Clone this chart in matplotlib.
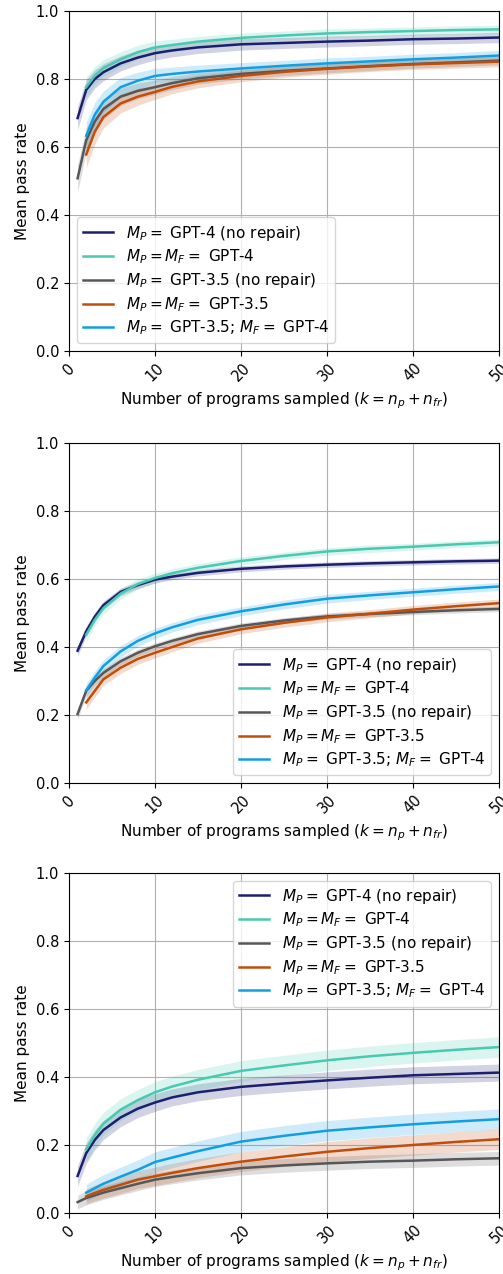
import matplotlib
matplotlib.use("Agg")
import matplotlib.pyplot as plt

# sample points (k) for the base (no repair) and repair curves
k_base = [1, 2, 3, 4, 6, 8, 10, 12, 15, 20, 25, 30, 35, 40, 45, 50]
k_rep = [2, 3, 4, 6, 8, 10, 12, 15, 20, 25, 30, 35, 40, 45, 50]

labels = [
    r"$M_P =$ GPT-4 (no repair)",
    r"$M_P = M_F =$ GPT-4",
    r"$M_P =$ GPT-3.5 (no repair)",
    r"$M_P = M_F =$ GPT-3.5",
    r"$M_P =$ GPT-3.5; $M_F =$ GPT-4",
]
colors = ["#1b1f6e", "#48c9b0", "#555759", "#c04e0a", "#129fe2"]
is_repair = [False, True, False, True, True]

# panel 1
p1_gpt4 = [0.685, 0.768, 0.800, 0.820, 0.846, 0.863, 0.876, 0.884, 0.893, 0.902, 0.906, 0.910, 0.913, 0.917, 0.919, 0.922]
p1_gpt4_rep = [0.776, 0.810, 0.832, 0.858, 0.879, 0.893, 0.900, 0.910, 0.921, 0.928, 0.934, 0.938, 0.941, 0.944, 0.946]
p1_gpt35 = [0.508, 0.620, 0.675, 0.712, 0.748, 0.765, 0.776, 0.788, 0.802, 0.815, 0.824, 0.831, 0.838, 0.844, 0.849, 0.854]
p1_gpt35_rep = [0.578, 0.645, 0.688, 0.728, 0.748, 0.762, 0.777, 0.793, 0.809, 0.821, 0.830, 0.837, 0.843, 0.847, 0.851]
p1_mixed = [0.633, 0.695, 0.733, 0.776, 0.795, 0.809, 0.815, 0.822, 0.831, 0.839, 0.846, 0.852, 0.858, 0.863, 0.869]

# panel 2
p2_gpt4 = [0.389, 0.446, 0.489, 0.523, 0.562, 0.582, 0.598, 0.607, 0.618, 0.630, 0.637, 0.642, 0.646, 0.649, 0.652, 0.654]
p2_gpt4_rep = [0.436, 0.480, 0.514, 0.557, 0.585, 0.603, 0.617, 0.633, 0.653, 0.668, 0.681, 0.689, 0.695, 0.702, 0.708]
p2_gpt35 = [0.203, 0.271, 0.300, 0.324, 0.358, 0.383, 0.402, 0.418, 0.438, 0.462, 0.478, 0.490, 0.497, 0.503, 0.508, 0.512]
p2_gpt35_rep = [0.237, 0.271, 0.305, 0.339, 0.365, 0.383, 0.400, 0.425, 0.452, 0.471, 0.487, 0.498, 0.510, 0.520, 0.529]
p2_mixed = [0.273, 0.310, 0.344, 0.387, 0.418, 0.440, 0.458, 0.480, 0.505, 0.525, 0.542, 0.552, 0.561, 0.570, 0.578]

# panel 3
p3_gpt4 = [0.109, 0.176, 0.215, 0.244, 0.281, 0.307, 0.325, 0.340, 0.355, 0.371, 0.381, 0.390, 0.398, 0.405, 0.409, 0.413]
p3_gpt4_rep = [0.187, 0.229, 0.263, 0.304, 0.332, 0.355, 0.372, 0.392, 0.418, 0.434, 0.449, 0.461, 0.471, 0.480, 0.488]
p3_gpt35 = [0.032, 0.044, 0.052, 0.060, 0.073, 0.086, 0.098, 0.106, 0.117, 0.132, 0.140, 0.146, 0.151, 0.154, 0.158, 0.161]
p3_gpt35_rep = [0.049, 0.059, 0.068, 0.083, 0.098, 0.108, 0.118, 0.132, 0.151, 0.166, 0.180, 0.191, 0.200, 0.209, 0.217]
p3_mixed = [0.060, 0.073, 0.086, 0.107, 0.127, 0.150, 0.163, 0.182, 0.210, 0.227, 0.242, 0.252, 0.261, 0.269, 0.276]

# band half-widths (same points as the curves)
b1 = [
    [0.035, 0.030, 0.027, 0.025, 0.022, 0.021, 0.020, 0.019, 0.018, 0.017, 0.016, 0.016, 0.015, 0.015, 0.015, 0.015],
    [0.030, 0.027, 0.025, 0.022, 0.020, 0.019, 0.017, 0.015, 0.014, 0.013, 0.013, 0.012, 0.012, 0.012, 0.012],
    [0.040, 0.036, 0.032, 0.030, 0.026, 0.023, 0.021, 0.019, 0.017, 0.015, 0.014, 0.013, 0.013, 0.012, 0.012, 0.012],
    [0.040, 0.036, 0.032, 0.028, 0.025, 0.022, 0.020, 0.019, 0.017, 0.016, 0.016, 0.015, 0.015, 0.015, 0.015],
    [0.040, 0.036, 0.032, 0.028, 0.025, 0.022, 0.020, 0.019, 0.017, 0.016, 0.016, 0.015, 0.015, 0.015, 0.015],
]
b2 = [
    [0.015, 0.014, 0.013, 0.012, 0.011, 0.010, 0.010, 0.009, 0.009, 0.009, 0.008, 0.008, 0.008, 0.008, 0.008, 0.008],
    [0.020, 0.018, 0.017, 0.016, 0.015, 0.014, 0.013, 0.012, 0.012, 0.011, 0.011, 0.011, 0.010, 0.010, 0.010],
    [0.015, 0.014, 0.013, 0.012, 0.011, 0.010, 0.010, 0.009, 0.009, 0.009, 0.008, 0.008, 0.008, 0.008, 0.008, 0.008],
    [0.020, 0.019, 0.018, 0.017, 0.016, 0.015, 0.014, 0.014, 0.013, 0.013, 0.013, 0.012, 0.012, 0.012, 0.012],
    [0.020, 0.019, 0.018, 0.017, 0.016, 0.015, 0.014, 0.014, 0.013, 0.013, 0.013, 0.012, 0.012, 0.012, 0.012],
]
b3 = [
    [0.030, 0.030, 0.029, 0.028, 0.027, 0.026, 0.026, 0.025, 0.025, 0.025, 0.025, 0.025, 0.025, 0.025, 0.025, 0.025],
    [0.035, 0.034, 0.033, 0.032, 0.031, 0.031, 0.030, 0.030, 0.030, 0.030, 0.030, 0.030, 0.030, 0.030, 0.030],
    [0.020, 0.020, 0.020, 0.020, 0.020, 0.020, 0.020, 0.020, 0.020, 0.020, 0.020, 0.020, 0.020, 0.020, 0.020, 0.020],
    [0.022, 0.023, 0.024, 0.025, 0.026, 0.027, 0.028, 0.028, 0.029, 0.029, 0.030, 0.030, 0.030, 0.030, 0.030],
    [0.025, 0.026, 0.027, 0.028, 0.029, 0.030, 0.030, 0.030, 0.030, 0.030, 0.030, 0.030, 0.030, 0.030, 0.030],
]

panels = [
    ([p1_gpt4, p1_gpt4_rep, p1_gpt35, p1_gpt35_rep, p1_mixed], b1, "lower left"),
    ([p2_gpt4, p2_gpt4_rep, p2_gpt35, p2_gpt35_rep, p2_mixed], b2, "lower right"),
    ([p3_gpt4, p3_gpt4_rep, p3_gpt35, p3_gpt35_rep, p3_mixed], b3, "upper right"),
]

W, H = 503, 1274
fig = plt.figure(figsize=(W / 100, H / 100), dpi=100)
tops = [11, 443, 873]
ax_h = 340

for (series, bands, loc), top in zip(panels, tops):
    ax = fig.add_axes([69 / W, (H - top - ax_h) / H, 430 / W, ax_h / H])
    for vals, band, lab, col, rep in zip(series, bands, labels, colors, is_repair):
        ks = k_rep if rep else k_base
        lo = [v - b for v, b in zip(vals, band)]
        hi = [v + b for v, b in zip(vals, band)]
        ax.fill_between(ks, lo, hi, color=col, alpha=0.2, linewidth=0)
        ax.plot(ks, vals, color=col, linewidth=1.8, label=lab)
    ax.set_xlim(0, 50)
    ax.set_ylim(0, 1)
    ax.grid(True)
    ax.set_axisbelow(True)
    ax.tick_params(axis="both", labelsize=10.5)
    ax.tick_params(axis="x", labelrotation=45)
    ax.set_ylabel("Mean pass rate", fontsize=11)
    ax.set_xlabel(r"Number of programs sampled ($k = n_p + n_{fr}$)", fontsize=11)
    ax.legend(loc=loc, fontsize=11, labelspacing=0.32)

fig.savefig("out.png", dpi=100)
